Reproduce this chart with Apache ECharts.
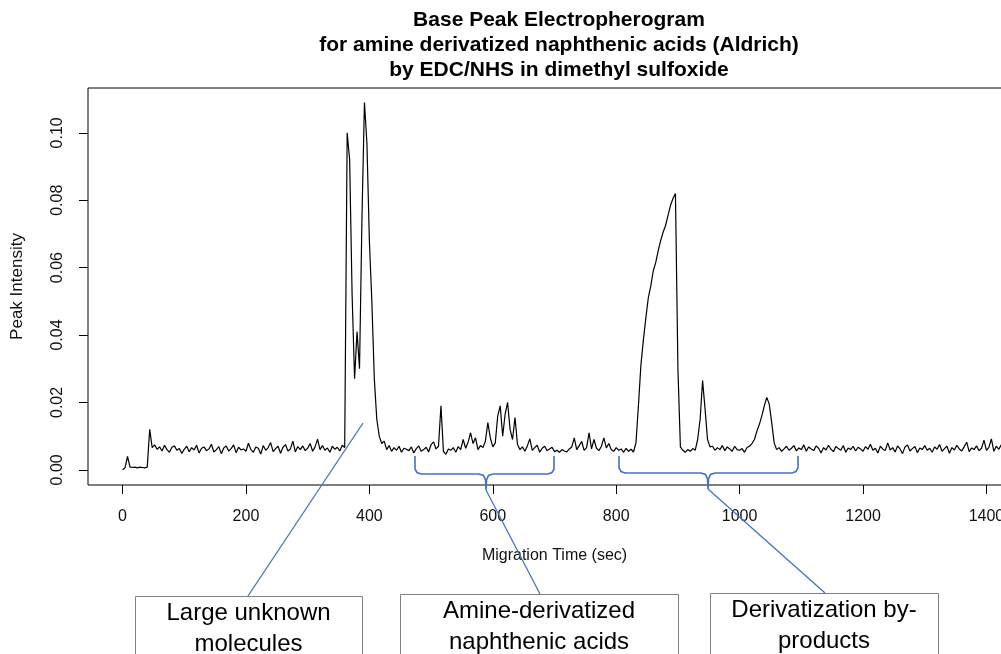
<!DOCTYPE html>
<html>
<head>
<meta charset="utf-8">
<title>Base Peak Electropherogram</title>
<script src="https://cdn.jsdelivr.net/npm/echarts@6.0.0/dist/echarts.min.js"></script>
<style>
  html, body { margin: 0; padding: 0; background: #fff; }
  #chart { width: 1001px; height: 654px; }
</style>
</head>
<body>
<div id="chart"></div>
<script>
const titleLines = [
  'Base Peak Electropherogram',
  'for amine derivatized naphthenic acids (Aldrich)',
  'by EDC/NHS in dimethyl sulfoxide'
];
const xName = 'Migration Time (sec)';
const yName = 'Peak Intensity';
const xTicks = [0, 200, 400, 600, 800, 1000, 1200, 1400];
const yTicks = [0, 0.02, 0.04, 0.06, 0.08, 0.10];

// one sample every 4 sec, starting at 0
const timeStep = 4;
const intensity = [
  0.0000, 0.0006, 0.0040, 0.0009, 0.0007, 0.0008, 0.0006, 0.0008, 0.0007, 0.0006, 0.0008, 0.0120, 0.0066, 0.0074, 0.0061, 0.0068, 0.0056, 0.0073, 0.0060, 0.0052, 0.0067, 0.0071, 0.0058, 0.0063, 0.0049,
  0.0061, 0.0070, 0.0054, 0.0066, 0.0059, 0.0073, 0.0050, 0.0064, 0.0068, 0.0057, 0.0062, 0.0076, 0.0053, 0.0060, 0.0069, 0.0048, 0.0065, 0.0071, 0.0056, 0.0063, 0.0074, 0.0051, 0.0067, 0.0059, 0.0062,
  0.0055, 0.0079, 0.0060, 0.0052, 0.0068, 0.0064, 0.0047, 0.0072, 0.0058, 0.0066, 0.0081, 0.0054, 0.0063, 0.0070, 0.0049, 0.0067, 0.0075, 0.0056, 0.0062, 0.0085, 0.0053, 0.0069, 0.0060, 0.0071, 0.0057,
  0.0064, 0.0078, 0.0055, 0.0068, 0.0091, 0.0060, 0.0072, 0.0058, 0.0065, 0.0052, 0.0070, 0.0061, 0.0067, 0.0056, 0.0073, 0.0066, 0.1000, 0.0920, 0.0520, 0.0270, 0.0410, 0.0300, 0.0750, 0.1090, 0.0970,
  0.0680, 0.0500, 0.0270, 0.0150, 0.0100, 0.0078, 0.0085, 0.0060, 0.0072, 0.0055, 0.0066, 0.0058, 0.0070, 0.0052, 0.0064, 0.0061, 0.0057, 0.0068, 0.0050, 0.0063, 0.0071, 0.0055, 0.0060, 0.0067, 0.0053,
  0.0075, 0.0083, 0.0062, 0.0070, 0.0190, 0.0055, 0.0046, 0.0062, 0.0058, 0.0066, 0.0052, 0.0069, 0.0060, 0.0090, 0.0064, 0.0082, 0.0110, 0.0078, 0.0095, 0.0060, 0.0072, 0.0066, 0.0085, 0.0140, 0.0095,
  0.0068, 0.0080, 0.0160, 0.0190, 0.0100, 0.0165, 0.0200, 0.0120, 0.0090, 0.0155, 0.0075, 0.0060, 0.0068, 0.0055, 0.0071, 0.0092, 0.0058, 0.0066, 0.0073, 0.0052, 0.0064, 0.0070, 0.0057, 0.0062, 0.0067,
  0.0054, 0.0058, 0.0052, 0.0060, 0.0056, 0.0053, 0.0062, 0.0068, 0.0095, 0.0060, 0.0072, 0.0084, 0.0058, 0.0066, 0.0110, 0.0062, 0.0090, 0.0064, 0.0057, 0.0070, 0.0095, 0.0065, 0.0078, 0.0060, 0.0055,
  0.0066, 0.0058, 0.0062, 0.0052, 0.0064, 0.0055, 0.0061, 0.0053, 0.0080, 0.0190, 0.0310, 0.0385, 0.0450, 0.0510, 0.0545, 0.0590, 0.0615, 0.0650, 0.0680, 0.0705, 0.0725, 0.0755, 0.0785, 0.0805, 0.0820,
  0.0300, 0.0068, 0.0058, 0.0052, 0.0060, 0.0055, 0.0063, 0.0058, 0.0090, 0.0150, 0.0265, 0.0180, 0.0090, 0.0068, 0.0070, 0.0058, 0.0066, 0.0060, 0.0072, 0.0057, 0.0068, 0.0062, 0.0055, 0.0070, 0.0060,
  0.0058, 0.0063, 0.0052, 0.0066, 0.0070, 0.0078, 0.0090, 0.0115, 0.0135, 0.0160, 0.0190, 0.0215, 0.0195, 0.0140, 0.0080, 0.0060, 0.0066, 0.0055, 0.0062, 0.0070, 0.0058, 0.0064, 0.0072, 0.0056, 0.0065,
  0.0060, 0.0074, 0.0055, 0.0068, 0.0062, 0.0057, 0.0071, 0.0064, 0.0050, 0.0066, 0.0059, 0.0073, 0.0061, 0.0054, 0.0069, 0.0063, 0.0058, 0.0072, 0.0052, 0.0065, 0.0060, 0.0070, 0.0056, 0.0067, 0.0062,
  0.0055, 0.0069, 0.0061, 0.0076, 0.0058, 0.0064, 0.0050, 0.0070, 0.0062, 0.0057, 0.0080, 0.0059, 0.0066, 0.0053, 0.0071, 0.0062, 0.0048, 0.0068, 0.0074, 0.0056, 0.0063, 0.0069, 0.0051, 0.0065, 0.0060,
  0.0072, 0.0058, 0.0064, 0.0052, 0.0068, 0.0061, 0.0075, 0.0055, 0.0063, 0.0070, 0.0049, 0.0066, 0.0059, 0.0073, 0.0062, 0.0056, 0.0069, 0.0082, 0.0054, 0.0065, 0.0060, 0.0071, 0.0057, 0.0064, 0.0088,
  0.0058, 0.0067, 0.0092, 0.0055, 0.0070, 0.0061, 0.0074, 0.0059, 0.0066, 0.0052, 0.0068
];

const boxLabels = [
  ['Large unknown', 'molecules'],
  ['Amine-derivatized', 'naphthenic acids'],
  ['Derivatization by-', 'products']
];

const FONT = '"Liberation Sans", Arial, sans-serif';
const BLUE = '#4472c4';

let chart = echarts.init(document.getElementById('chart'));
let points = intensity.map((v, i) => [i * timeStep, v]);

// curly bracket under a range of the trace: left x, right x, middle x, top y, bar y, tip y
function brace(l, r, m, top, bar, tip) {
  return [
    [l, top], [l, bar - 5], [l + 2, bar - 1.5], [l + 6, bar],
    [m - 7, bar], [m - 2.5, bar + 1.5], [m - 0.5, bar + 6], [m, tip],
    [m + 0.5, bar + 6], [m + 2.5, bar + 1.5], [m + 7, bar],
    [r - 6, bar], [r - 2, bar - 1.5], [r, bar - 5], [r, top]
  ];
}

// annotation overlay (drawn on top of the plot like in the slide)
let graphics = [];
titleLines.forEach((t, i) => {
  graphics.push({
    type: 'text', x: 559, y: 20 + i * 25, z: 10,
    style: { text: t, font: 'bold 21px ' + FONT, fill: '#000', align: 'center', verticalAlign: 'middle' }
  });
});
graphics.push(
  { type: 'polyline', z: 20, shape: { points: brace(415, 554, 486, 456, 474, 490) },
    style: { fill: null, stroke: BLUE, lineWidth: 1.6 } },
  { type: 'polyline', z: 20, shape: { points: brace(619, 798, 708, 456, 473, 489) },
    style: { fill: null, stroke: BLUE, lineWidth: 1.6 } },
  { type: 'line', z: 20, shape: { x1: 363, y1: 423, x2: 248, y2: 596 }, style: { stroke: BLUE, lineWidth: 1.3 } },
  { type: 'line', z: 20, shape: { x1: 486, y1: 490, x2: 540, y2: 594 }, style: { stroke: BLUE, lineWidth: 1.3 } },
  { type: 'line', z: 20, shape: { x1: 708, y1: 489, x2: 825, y2: 593 }, style: { stroke: BLUE, lineWidth: 1.3 } }
);
let boxes = [[135, 596, 227], [400, 594, 278], [710, 593, 228]];
boxes.forEach((b, i) => {
  graphics.push({
    type: 'rect', z: 21, shape: { x: b[0] + 0.5, y: b[1] + 0.5, width: b[2], height: 80 },
    style: { fill: '#fff', stroke: '#808080', lineWidth: 1 }
  });
  boxLabels[i].forEach((line, j) => {
    graphics.push({
      type: 'text', z: 22, x: b[0] + b[2] / 2, y: b[1] + 17 + j * 31,
      style: { text: line, font: '24px ' + FONT, fill: '#000', align: 'center', verticalAlign: 'middle' }
    });
  });
});

let options = {
  animation: false,
  backgroundColor: '#fff',
  grid: {
    left: 88, right: -20, top: 88, bottom: 169,
    show: true, borderColor: '#000', borderWidth: 1,
    containLabel: false, outerBoundsMode: 'none'
  },
  xAxis: {
    type: 'value', min: -56, max: 1456,
    name: xName, nameLocation: 'middle', nameGap: 63,
    nameTextStyle: { fontFamily: FONT, fontSize: 16, color: '#111' },
    axisLine: { show: false, onZero: false },
    axisTick: { show: true, inside: false, length: 9, customValues: xTicks, lineStyle: { color: '#000' } },
    axisLabel: {
      customValues: xTicks, margin: 24, fontFamily: FONT, fontSize: 16, color: '#111',
      formatter: (v) => String(v)
    },
    splitLine: { show: false }
  },
  yAxis: {
    type: 'value', min: -0.0045, max: 0.1133,
    name: yName, nameLocation: 'middle', nameGap: 62, nameRotate: 90,
    nameTextStyle: { fontFamily: FONT, fontSize: 17, color: '#111' },
    axisLine: { show: false, onZero: false },
    axisTick: { show: true, inside: false, length: 9, customValues: yTicks, lineStyle: { color: '#000' } },
    axisLabel: {
      customValues: yTicks, rotate: 90, margin: 22, fontFamily: FONT, fontSize: 16, color: '#111',
      formatter: (v) => v.toFixed(2)
    },
    splitLine: { show: false }
  },
  series: [
    {
      name: 'base peak',
      type: 'line',
      data: points,
      showSymbol: false,
      lineStyle: { color: '#000', width: 1.2 },
      clip: true
    }
  ],
  graphic: { elements: graphics }
};
chart.setOption(options);
</script>
</body>
</html>
